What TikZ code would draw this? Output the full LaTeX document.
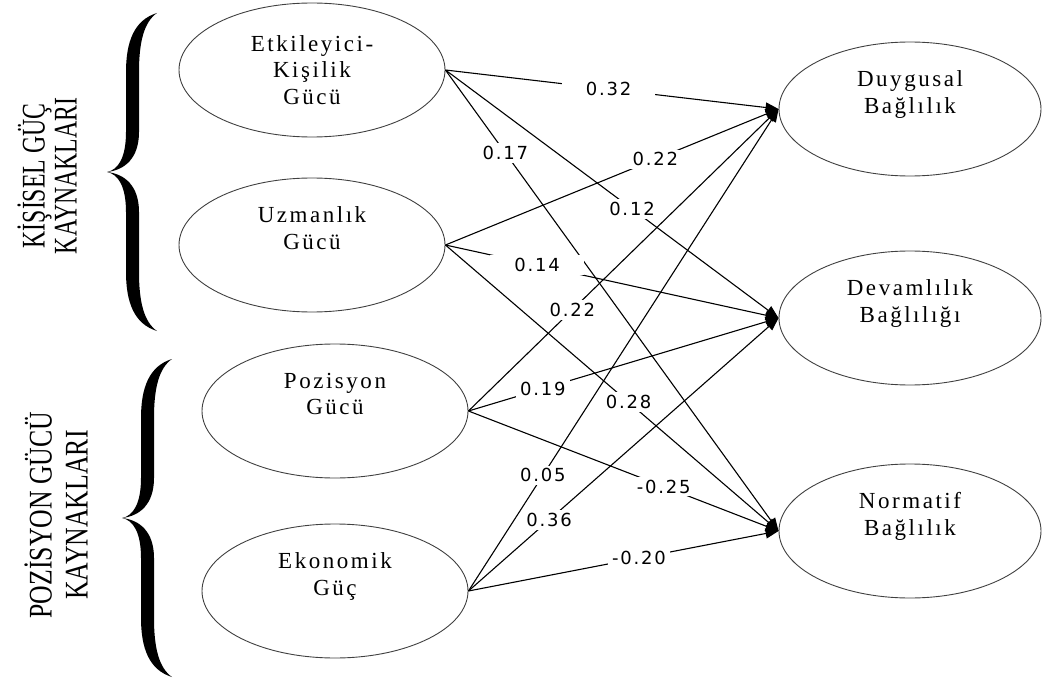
\documentclass[tikz,border=0pt]{standalone}
\usepackage{fontspec}
\setmainfont{Liberation Serif}
\newfontfamily\boxfont[LetterSpace=11]{Liberation Serif}
\newfontfamily\coeffont[LetterSpace=10]{DejaVu Sans}
\newfontfamily\groupfont[FakeStretch=0.72]{Liberation Serif}
\newfontfamily\groupfontwide[FakeStretch=0.78]{Liberation Serif}
\usetikzlibrary{arrows.meta, shapes.geometric}

\begin{document}
\begin{tikzpicture}[
    x=1pt, y=-1pt,
    factor/.style={
        ellipse,
        draw=black!75,
        line width=0.9pt,
        minimum width=266pt,
        minimum height=134pt,
        inner sep=0pt,
        align=center,
        font=\fontsize{23}{26.5}\boxfont,
    },
    effect/.style={
        line width=1.1pt,
        -{Triangle[length=13pt, width=10pt]},
    },
    coef/.style={
        fill=white,
        inner xsep=4pt,
        inner ysep=3pt,
        font=\fontsize{18}{18}\coeffont,
    },
    grouplabel/.style={
        rotate=90,
        align=center,
        font=\fontsize{33}{32}\groupfont,
    },
    bigbrace/.pic={
        \fill (50,-159) .. controls (27,-152) and (19,-130) .. (19,-100)
            -- (19,-40) .. controls (19,-14) and (11,-2) .. (0,0)
            .. controls (11,2) and (19,14) .. (19,40)
            -- (19,100) .. controls (19,130) and (27,152) .. (50,159)
            .. controls (37,150) and (32,130) .. (32,100)
            -- (32,40) .. controls (32,14) and (18,2) .. (0,0)
            .. controls (18,-2) and (32,-14) .. (32,-40)
            -- (32,-100) .. controls (32,-130) and (37,-150) .. (50,-159)
            -- cycle;
    }
]
    \useasboundingbox (0,0) rectangle (1042,682);

    % Group braces and labels
    \pic at (107,172) {bigbrace};
    \pic at (122,518) {bigbrace};
    \node[grouplabel] (kisisel) at (47,176) {KİŞİSEL GÜÇ\\KAYNAKLARI};
    \node[grouplabel, font=\fontsize{33}{36}\groupfontwide] (pozisyon) at (56,515) {POZİSYON GÜCÜ\\KAYNAKLARI};

    % Power sources
    \node[factor] (etk) at (312,70) {Etkileyici-\\Kişilik\\Gücü};
    \node[factor] (uzm) at (312,245) {Uzmanlık\\Gücü\\\strut};
    \node[factor] (poz) at (335,411) {Pozisyon\\Gücü\\\strut};
    \node[factor] (eko) at (335,591) {Ekonomik\\Güç\\\strut};

    % Commitment types
    \node[factor, minimum width=262pt] (duy) at (910,109) {Duygusal\\Bağlılık\\\strut};
    \node[factor, minimum width=262pt] (dev) at (910,318) {Devamlılık\\Bağlılığı\\\strut};
    \node[factor, minimum width=262pt] (nor) at (910,531) {Normatif\\Bağlılık\\\strut};

    % Effects
    \draw[effect] (etk.east) -- node[coef, pos=0.49, inner xsep=24pt] {0.32} (duy.west);
    \draw[effect] (etk.east) -- node[coef, pos=0.56] {0.12} (dev.west);
    \draw[effect] (etk.east) -- node[coef, pos=0.18] {0.17} (nor.west);
    \draw[effect] (uzm.east) -- node[coef, pos=0.63] {0.22} (duy.west);
    \draw[effect] (uzm.east) -- node[coef, pos=0.275, inner xsep=24pt] {0.14} (dev.west);
    \draw[effect] (uzm.east) -- node[coef, pos=0.55] {0.28} (nor.west);
    \draw[effect] (poz.east) -- node[coef, pos=0.335] {0.22} (duy.west);
    \draw[effect] (poz.east) -- node[coef, pos=0.24] {0.19} (dev.west);
    \draw[effect] (poz.east) -- node[coef, pos=0.63] {-0.25} (nor.west);
    \draw[effect] (eko.east) -- node[coef, pos=0.24] {0.05} (duy.west);
    \draw[effect] (eko.east) -- node[coef, pos=0.26] {0.36} (dev.west);
    \draw[effect] (eko.east) -- node[coef, pos=0.55] {-0.20} (nor.west);
\end{tikzpicture}
\end{document}
